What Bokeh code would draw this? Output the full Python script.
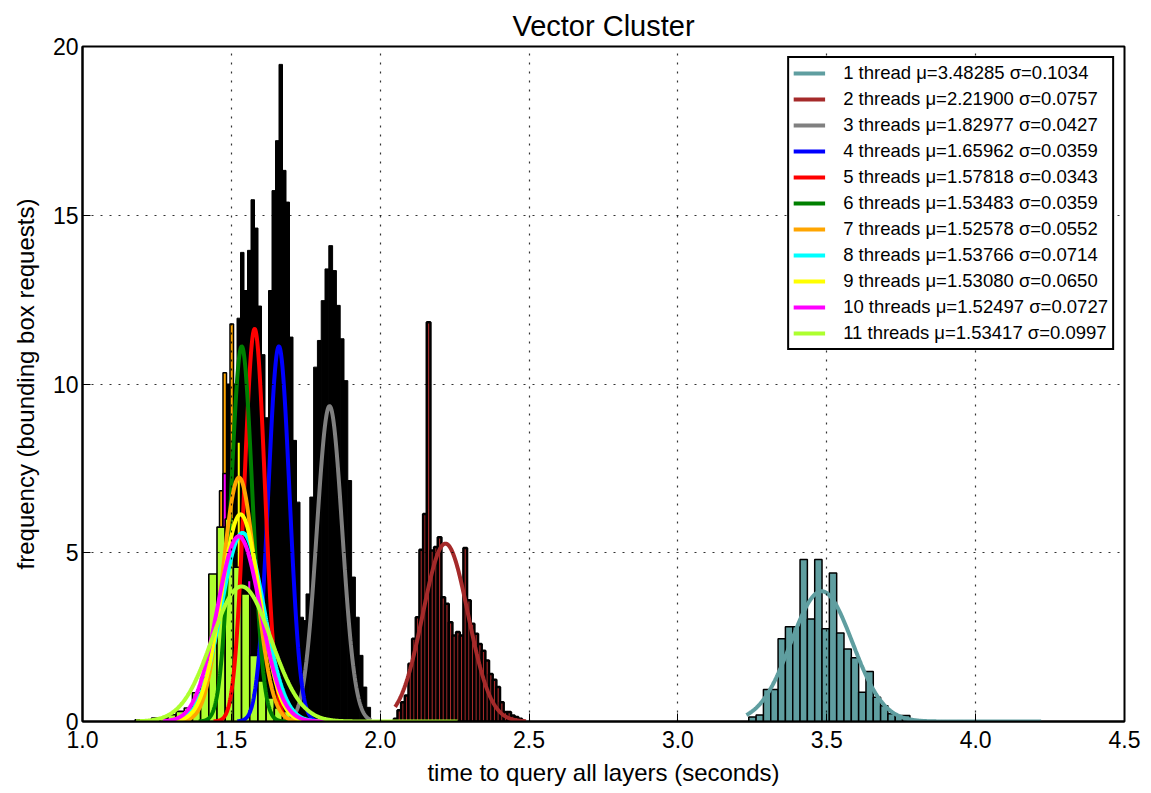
import numpy as np
from bokeh.plotting import figure
from bokeh.models import FixedTicker, PrintfTickFormatter, Range1d, Legend, LegendItem
from bokeh.embed import file_html
from bokeh.resources import INLINE

# ---------------- data ----------------
threads = [1, 2, 3, 4, 5, 6, 7, 8, 9, 10, 11]
legend_labels = [
    "1 thread μ=3.48285 σ=0.1034",
    "2 threads μ=2.21900 σ=0.0757",
    "3 threads μ=1.82977 σ=0.0427",
    "4 threads μ=1.65962 σ=0.0359",
    "5 threads μ=1.57818 σ=0.0343",
    "6 threads μ=1.53483 σ=0.0359",
    "7 threads μ=1.52578 σ=0.0552",
    "8 threads μ=1.53766 σ=0.0714",
    "9 threads μ=1.53080 σ=0.0650",
    "10 threads μ=1.52497 σ=0.0727",
    "11 threads μ=1.53417 σ=0.0997",
]
mu = [3.48285, 2.21900, 1.82977, 1.65962, 1.57818, 1.53483, 1.52578, 1.53766, 1.53080, 1.52497, 1.53417]
sigma = [0.1034, 0.0757, 0.0427, 0.0359, 0.0343, 0.0359, 0.0552, 0.0714, 0.0650, 0.0727, 0.0997]
# range of each sample set (where the fitted curve is drawn)
data_min = [3.23, 2.05, 1.70, 1.52, 1.44, 1.39, 1.34, 1.30, 1.31, 1.27, 1.18]
data_max = [4.22, 2.49, 1.97, 1.80, 1.75, 1.72, 1.80, 1.85, 1.85, 1.85, 2.26]

# histogram bins: first bin edge, bin width, and densities per bin
bin_start = [3.238, 2.0457, 1.738, 1.54248, 1.46018, 1.42491, 1.38965, 1.37789, 1.37789, 1.36613, 1.1768]
bin_width = [0.0246, 0.0123, 0.01276, 0.011756, 0.011756, 0.011756, 0.011756, 0.011756, 0.011756, 0.011756, 0.0275]

hist_1 = [0.13, 0.19, 0.95, 0.95, 2.45, 2.81, 2.81, 4.8, 3.04, 4.8, 2.75, 4.4, 2.62, 2.15, 1.89, 0.87, 1.48,
          0.72, 0.47, 0.23, 0.18, 0.18]
hist_2 = [0.08, 0.33, 0.57, 0.77, 1.71, 2.45, 3.09, 5.09, 6.15, 11.83, 5.07, 5.17, 5.46, 3.68, 3.49, 2.94, 2.55,
          2.65, 2.55, 5.14, 3.59, 2.9, 2.6, 2.3, 2.1, 1.81, 1.41, 1.24, 1.02, 0.57, 0.28, 0.28, 0.18, 0.13, 0.08]
hist_3 = [2.99, 3.78, 6.65, 10.5, 11.29, 12.47, 13.41, 14.1, 13.36, 12.33, 11.34, 10.1, 7.14, 4.28, 3.09, 1.96,
          1.02, 0.42]
hist_4 = [0.2, 0.5, 1.0, 2.0, 3.5, 5.5, 7.5, 12.77, 15.73, 17.21, 19.47, 16.33, 15.39, 11.39, 8.33, 6.5, 3.09,
          1.5, 0.8, 0.4, 0.2]
hist_5 = [0.1, 0.3, 0.6, 1.3, 2.5, 4.5, 7.0, 10.0, 13.96, 15.46, 14.62, 12.31, 10.87, 9.0, 6.0, 4.0, 2.5, 1.5,
          0.8, 0.4, 0.2, 0.1]
hist_6 = [0.2, 0.5, 1.0, 2.0, 5.0, 10.0, 9.0, 10.0, 11.95, 13.9, 12.77, 10.0, 7.0, 4.5, 2.5, 1.5, 0.8, 0.4, 0.2]
hist_7 = [0.2, 0.4, 0.8, 1.5, 2.5, 4.0, 6.84, 10.33, 6.0, 11.78, 4.5, 3.5, 3.0, 2.5, 2.0, 1.5, 1.0, 0.6, 0.4,
          0.3, 0.2, 0.1]
hist_8 = [0.1, 0.2, 0.3, 0.6, 1.0, 1.8, 2.8, 3.8, 4.5, 5.0, 5.5, 4.2, 4.0, 3.5, 3.0, 2.5, 1.8, 1.3, 0.9, 0.6,
          0.4, 0.25, 0.15, 0.1]
hist_9 = [0.1, 0.2, 0.4, 0.7, 1.2, 2.0, 3.0, 4.0, 4.5, 5.0, 5.5, 4.5, 8.28, 3.5, 3.0, 2.5, 1.8, 1.3, 0.9, 0.6,
          0.4, 0.25, 0.15, 0.1]
hist_10 = [0.1, 0.15, 0.3, 0.5, 0.9, 1.5, 2.5, 3.5, 5.0, 7.35, 5.5, 5.0, 4.0, 3.5, 3.2, 3.0, 4.18, 1.8, 1.2,
           0.8, 0.5, 0.3, 0.2, 0.1]
hist_11 = [0.05, 0.05, 0.1, 0.1, 0.2, 0.3, 0.4, 0.85, 1.3, 4.37, 5.76, 6.0, 4.57, 3.78, 1.96, 1.2, 0.7, 0.4, 0.3,
           0.2, 0.15, 0.1, 0.1]
hists = [hist_1, hist_2, hist_3, hist_4, hist_5, hist_6, hist_7, hist_8, hist_9, hist_10, hist_11]

x_ticks = [1.0, 1.5, 2.0, 2.5, 3.0, 3.5, 4.0, 4.5]
y_ticks = [0, 5, 10, 15, 20]

# ---------------- styles ----------------
colors = ["#5F9EA0", "#A52A2A", "#808080", "#0000FF", "#FF0000", "#008000",
          "#FFA500", "#00FFFF", "#FFFF00", "#FF00FF", "#ADFF2F"]
hist_fill = ["#5F9EA0", "#A52A2A", "black", "black", "black", "black",
             "#FFA500", "#00FFFF", "#FFFF00", "#FF00FF", "#ADFF2F"]
hist_lw = [1.5, 2.5, 1.0, 1.0, 1.0, 1.0, 1.5, 1.5, 1.5, 1.5, 1.6]
FONT = "Liberation Sans"

p = figure(width=1143, height=789, x_range=Range1d(1.0, 4.5), y_range=Range1d(0, 20),
           output_backend="svg", toolbar_location=None, title="Vector Cluster",
           min_border_left=82, min_border_right=19, min_border_top=46, min_border_bottom=68)

p.title.text_font = FONT
p.title.text_font_size = "29px"
p.title.text_font_style = "normal"
p.title.text_color = "black"
p.title.align = "center"
p.title.standoff = 10

p.outline_line_color = "black"
p.outline_line_width = 2
p.outline_line_alpha = 1.0
p.background_fill_color = "white"
p.border_fill_color = "white"

p.xaxis.ticker = FixedTicker(ticks=x_ticks)
p.yaxis.ticker = FixedTicker(ticks=y_ticks)
p.xaxis.formatter = PrintfTickFormatter(format="%.1f")
p.xaxis.axis_label = "time to query all layers (seconds)"
p.yaxis.axis_label = "frequency (bounding box requests)"
for ax in (p.xaxis, p.yaxis):
    ax.axis_label_text_font = FONT
    ax.axis_label_text_font_size = "24px"
    ax.axis_label_text_font_style = "normal"
    ax.axis_label_text_color = "black"
    ax.major_label_text_font = FONT
    ax.major_label_text_font_size = "23px"
    ax.major_label_text_color = "black"
    ax.axis_line_color = "black"
    ax.axis_line_width = 2
    ax.major_tick_in = 8
    ax.major_tick_out = 0
    ax.major_tick_line_color = "black"
    ax.minor_tick_line_color = None
p.xaxis.major_label_standoff = 9
p.xaxis.axis_label_standoff = 8
p.yaxis.major_label_standoff = 4
p.yaxis.axis_label_standoff = 11

p.grid.grid_line_color = "black"
p.grid.grid_line_dash = "2 7"
p.grid.grid_line_width = 1.2
p.grid.grid_line_alpha = 0.8
p.grid.level = "guide"

# histograms
for i, h in enumerate(hists):
    h = np.array(h, dtype=float)
    left = bin_start[i] + bin_width[i] * np.arange(len(h))
    p.quad(left=left, right=left + bin_width[i], bottom=0, top=h,
           fill_color=hist_fill[i], line_color="black", line_width=hist_lw[i])

# fitted normal curves
items = []
for i in range(len(threads)):
    xs = np.linspace(data_min[i], data_max[i], 400)
    ys = np.exp(-0.5 * ((xs - mu[i]) / sigma[i]) ** 2) / (sigma[i] * np.sqrt(2 * np.pi))
    r = p.line(xs, ys, line_color=colors[i], line_width=4)
    items.append(LegendItem(label=legend_labels[i], renderers=[r]))

legend = Legend(items=items, location="top_right")
legend.label_text_font = FONT
legend.label_text_font_size = "18.5px"
legend.label_text_color = "black"
legend.glyph_width = 32
legend.glyph_height = 18
legend.label_height = 18
legend.spacing = 4
legend.padding = 4
legend.margin = 10
legend.label_standoff = 18
legend.border_line_color = "black"
legend.border_line_width = 2
legend.border_line_alpha = 1.0
legend.background_fill_color = "white"
legend.background_fill_alpha = 1.0
p.add_layout(legend)

open("out.html", "w").write(file_html(p, INLINE))
